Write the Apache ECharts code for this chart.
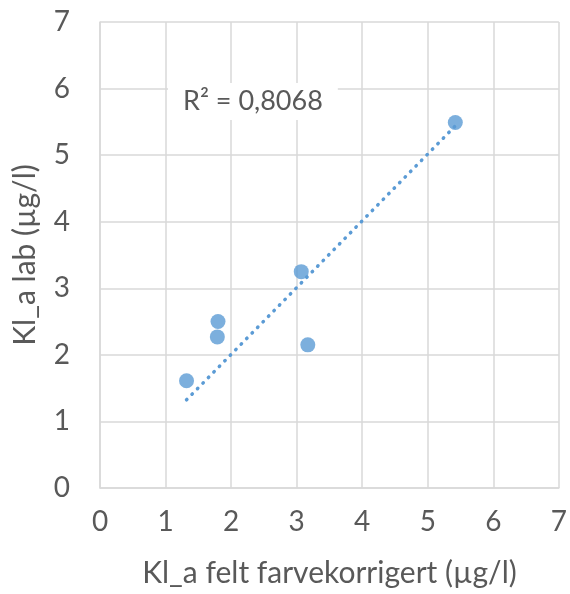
<!DOCTYPE html>
<html>
<head>
<meta charset="utf-8">
<script src="https://cdn.jsdelivr.net/npm/echarts@6/dist/echarts.min.js"></script>
<style>
  html, body { margin: 0; padding: 0; background: #fff; }
  #chart { width: 570px; height: 594px; }
</style>
</head>
<body>
<div id="chart"></div>
<script>
const chart = echarts.init(document.getElementById('chart'));

// verdier lest av figuren
const feltValues = [1.32, 1.80, 1.79, 3.07, 3.17, 5.42];
const labValues = [1.61, 2.50, 2.27, 3.25, 2.15, 5.49];
const r2Text = 'R² = 0,8068';

const points = feltValues.map((x, i) => [x, labValues[i]]);

// lineær trendlinje gjennom origo
let sxy = 0, sxx = 0;
points.forEach(p => { sxy += p[0] * p[1]; sxx += p[0] * p[0]; });
const slope = sxy / sxx;
const xMin = Math.min(...feltValues);
const xMax = Math.max(...feltValues);
const trendLine = [[xMin, slope * xMin], [xMax, slope * xMax]];

const font = 'Lato, "Open Sans", sans-serif';
const blue = '#5B9BD5';
const gridColor = '#D9D9D9';
const textColor = '#595959';

const option = {
    animation: false,
    grid: { left: 100, right: 10, top: 22, bottom: 106 },
    xAxis: {
        type: 'value', min: 0, max: 7, interval: 1,
        name: 'Kl_a felt farvekorrigert (µg/l)',
        nameLocation: 'middle', nameGap: 70,
        nameTextStyle: { fontFamily: font, fontSize: 30, color: textColor },
        axisLine: { lineStyle: { color: gridColor, width: 1.5 } },
        axisTick: { show: false },
        axisLabel: { fontFamily: font, fontSize: 28, color: textColor, margin: 20 },
        splitLine: { lineStyle: { color: gridColor, width: 1.5 } }
    },
    yAxis: {
        type: 'value', min: 0, max: 7, interval: 1,
        name: 'Kl_a lab (µg/l)',
        nameLocation: 'middle', nameGap: 60,
        nameTextStyle: { fontFamily: font, fontSize: 30, color: textColor },
        axisLine: { show: true, lineStyle: { color: gridColor, width: 1.5 } },
        axisTick: { show: false },
        axisLabel: { fontFamily: font, fontSize: 28, color: textColor, margin: 30 },
        splitLine: { lineStyle: { color: gridColor, width: 1.5 } }
    },
    series: [
        {
            type: 'line',
            data: trendLine,
            symbol: 'none',
            lineStyle: { color: blue, width: 3.5, type: [0.5, 7.3], cap: 'round' },
            z: 2
        },
        {
            type: 'scatter',
            data: points,
            symbol: 'circle',
            symbolSize: 15,
            itemStyle: { color: blue },
            z: 3
        }
    ],
    graphic: [{
        type: 'text',
        left: 168, top: 83,
        z: 10,
        style: {
            text: r2Text,
            fontFamily: font, fontSize: 27, fill: textColor,
            backgroundColor: '#fff',
            padding: [5, 15, 5, 15]
        }
    }]
};

chart.setOption(option);
</script>
</body>
</html>
